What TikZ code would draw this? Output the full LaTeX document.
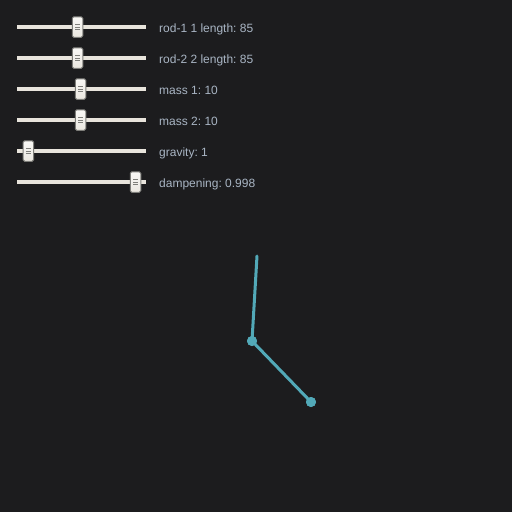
\documentclass[tikz,border=0pt]{standalone}
\usepackage{fontspec}
\setmainfont{Liberation Sans}
\definecolor{bg}{HTML}{1C1C1E}
\definecolor{track}{HTML}{E8E4DC}
\definecolor{thumbfill}{HTML}{EAE7E0}
\definecolor{thumbedge}{HTML}{7E7E7A}
\definecolor{labelc}{HTML}{A9B5C4}
\definecolor{pend}{HTML}{52A9B8}
\tikzset{
  trackline/.style={track, line width=4pt},
  thumb/.style={rectangle, rounded corners=1.5pt, minimum width=10.5pt, minimum height=20.5pt, inner sep=0pt,
     draw=thumbedge, line width=1pt, top color=white!70!thumbfill, bottom color=thumbfill},
  grip/.style={draw=thumbedge, line width=0.8pt},
  lab/.style={anchor=base west, text=labelc, font=\fontsize{12}{14}\selectfont, inner sep=0pt},
  rod/.style={pend, line width=3pt, line cap=round},
  bob/.style={circle, fill=pend, minimum size=10pt, inner sep=0pt}
}
\begin{document}
\frenchspacing
\begin{tikzpicture}[x=1pt,y=-1pt]
\fill[bg] (0,0) rectangle (512,512);
\useasboundingbox (0,0) rectangle (512,512);
\foreach \i/\y/\t/\txt in {1/27/77.5/{rod-1 1 length: 85},2/58/77.5/{rod-2 2 length: 85},3/89/80.5/{mass 1: 10},4/120/80.5/{mass 2: 10},5/151/28.3/{gravity: 1},6/182/135.5/{dampening: 0.998}}{
  \coordinate (s\i a) at (17,\y);
  \coordinate (s\i b) at (146,\y);
  \draw[trackline] (s\i a) -- (s\i b);
  \node[thumb] (t\i) at (\t,\y) {};
  \draw[grip] ([xshift=-2.5pt,yshift=-2.5pt]t\i.center) -- ([xshift=2.5pt,yshift=-2.5pt]t\i.center);
  \draw[grip] ([xshift=-2.5pt]t\i.center) -- ([xshift=2.5pt]t\i.center);
  \draw[grip] ([xshift=-2.5pt,yshift=2.5pt]t\i.center) -- ([xshift=2.5pt,yshift=2.5pt]t\i.center);
  \node[lab] (l\i) at (159,\y+5.2) {\txt};
}
\coordinate (pivot) at (257,256);
\node[bob] (joint) at (252,341) {};
\node[bob] (end) at (311,402) {};
\draw[rod] (pivot) -- (joint.center);
\draw[rod] (joint.center) -- (end.center);
\node[bob] at (joint) {};
\node[bob] at (end) {};
\end{tikzpicture}
\end{document}
